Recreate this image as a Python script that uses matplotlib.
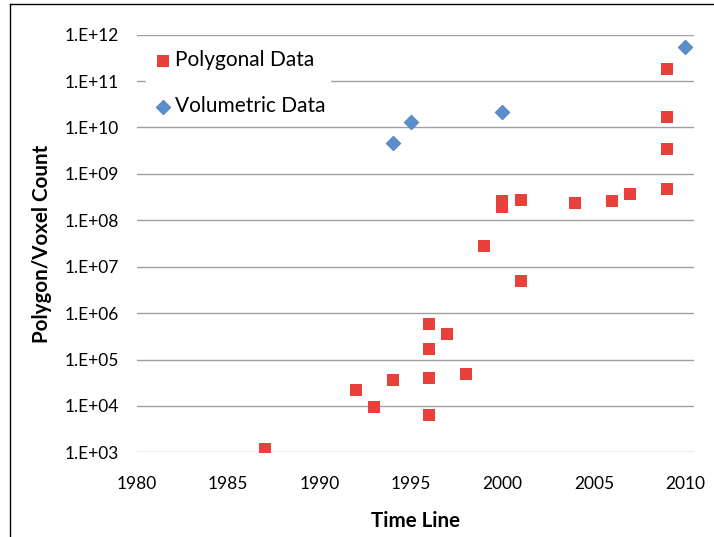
import matplotlib
matplotlib.use("Agg")
from matplotlib import pyplot as plt
from matplotlib.lines import Line2D

plt.rcParams['font.family'] = ['Lato', 'DejaVu Sans']

# polygonal data (year, count)
poly_year = [1987, 1992, 1993, 1994, 1996, 1996, 1996, 1996, 1997, 1998, 1999,
             2000, 2000, 2001, 2001, 2004, 2006, 2007, 2009, 2009, 2009, 2009]
poly_count = [1.2e3, 2.2e4, 9.3e3, 3.6e4, 5.7e5, 1.7e5, 4.0e4, 6.5e3, 3.6e5, 5.0e4, 2.8e7,
              2.6e8, 1.9e8, 2.7e8, 5.0e6, 2.4e8, 2.6e8, 3.6e8, 4.7e8, 3.4e9, 1.7e10, 1.8e11]

# volumetric data
vol_year = [1994, 1995, 2000, 2010]
vol_count = [4.7e9, 1.3e10, 2.1e10, 5.5e11]

xticks = [1980, 1985, 1990, 1995, 2000, 2005, 2010]
yticks = [1e3, 1e4, 1e5, 1e6, 1e7, 1e8, 1e9, 1e10, 1e11, 1e12]
ytick_labels = ['1.E+03', '1.E+04', '1.E+05', '1.E+06', '1.E+07',
                '1.E+08', '1.E+09', '1.E+10', '1.E+11', '1.E+12']

fig = plt.figure(figsize=(7.14, 5.37), dpi=100)
ax = fig.add_axes([0.1913, 0.1575, 0.7812, 0.7781])

ax.set_yscale('log')
ax.scatter(poly_year, poly_count, marker='s', s=80, color='#E8413C', linewidths=0,
           label='Polygonal Data', zorder=3)
ax.scatter(vol_year, vol_count, marker='D', s=55, color='#5B8FCC', edgecolors='#4F7DB8',
           linewidths=0.6, label='Volumetric Data', zorder=3)

ax.set_xlim(1980, 2010.5)
ax.set_ylim(1e3, 1e12)
ax.set_xticks(xticks)
ax.set_xticklabels([str(x) for x in xticks])
ax.set_yticks(yticks)
ax.set_yticklabels(ytick_labels)
ax.minorticks_off()
ax.tick_params(length=0, labelsize=12.5)
ax.tick_params(axis='x', pad=17)
ax.tick_params(axis='y', pad=13)

ax.grid(axis='y', color='#A0A0A0', linewidth=1)
ax.set_axisbelow(True)
for s in ax.spines.values():
    s.set_visible(False)

ax.set_xlabel('Time Line', fontsize=14.8, fontweight='bold', labelpad=14)
ax.set_ylabel('Polygon/Voxel Count', fontsize=14.8, fontweight='bold', labelpad=9)

leg = ax.legend(loc='upper left', bbox_to_anchor=(0.017, 0.972), frameon=True, fontsize=15,
                handletextpad=0.0, labelspacing=1.25, handlelength=1.2, borderaxespad=0,
                borderpad=0.2)
leg.get_frame().set_edgecolor('white')
leg.get_frame().set_facecolor('white')
leg.get_frame().set_alpha(1)

# outer frame lines (chart area border)
fig.add_artist(Line2D([10 / 714, 10 / 714], [0, 1 - 3.5 / 537], color='black', lw=1))
fig.add_artist(Line2D([10 / 714, 1], [1 - 3.5 / 537, 1 - 3.5 / 537], color='black', lw=1))

fig.savefig('out.png', dpi=100)
